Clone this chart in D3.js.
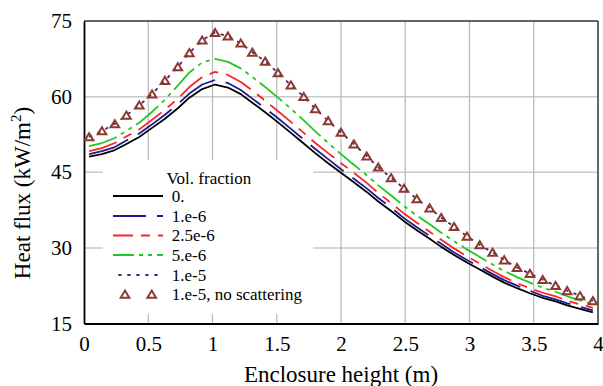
<!DOCTYPE html>
<html>
<head>
<meta charset="utf-8">
<script src="https://cdn.jsdelivr.net/npm/d3@7"></script>
<style>
  html, body { margin: 0; padding: 0; background: #fff; }
  svg, svg text { font-family: "Liberation Serif", "Times New Roman", serif; }
  svg { display: block; }
</style>
</head>
<body>
<svg id="chart" width="603" height="386"></svg>
<script>
// ---- data ----
const heights = [0.04,0.14,0.24,0.33,0.43,0.53,0.63,0.73,0.82,0.92,1.02,1.12,1.22,1.31,1.41,1.51,1.61,1.71,1.80,1.90,2.00,2.10,2.20,2.29,2.39,2.49,2.59,2.69,2.78,2.88,2.98,3.08,3.18,3.27,3.37,3.47,3.57,3.67,3.76,3.86,3.96];

const flux0 = [48.1,48.6,49.4,50.6,52.0,53.8,55.6,57.7,59.8,61.5,62.4,61.8,60.5,58.8,56.9,54.9,52.8,50.7,48.8,46.8,44.9,43.0,41.1,39.2,37.3,35.3,33.5,31.8,30.2,28.6,27.1,25.7,24.3,23.1,22.0,21.0,20.1,19.4,18.6,17.9,17.2];
const flux1e6 = [48.6,49.2,50.0,51.3,52.7,54.5,56.4,58.5,60.6,62.4,63.3,62.7,61.3,59.6,57.7,55.7,53.6,51.5,49.6,47.6,45.6,43.7,41.8,39.9,38.0,35.9,34.1,32.4,30.8,29.1,27.6,26.2,24.8,23.6,22.5,21.5,20.5,19.8,19.0,18.3,17.6];
const flux25e6 = [49.2,49.8,50.8,52.1,53.5,55.4,57.4,59.6,61.9,63.9,64.9,64.3,62.9,61.2,59.2,57.1,55.0,52.8,50.8,48.8,46.8,44.9,42.9,40.9,38.9,36.8,35.0,33.2,31.6,29.9,28.3,26.9,25.4,24.2,23.0,22.0,21.1,20.4,19.5,18.8,18.1];
const flux5e6 = [50.2,50.8,51.8,53.2,54.8,57.0,59.4,62.2,64.8,66.8,67.5,66.9,65.6,63.9,61.9,59.8,57.6,55.3,53.1,50.8,48.6,46.5,44.4,42.4,40.4,38.3,36.4,34.7,33.0,31.3,29.7,28.2,26.7,25.4,24.2,23.1,22.1,21.3,20.4,19.6,18.8];
const flux1e5 = [52.0,53.2,54.6,56.3,58.3,60.5,63.2,65.9,68.7,71.2,72.7,72.0,70.6,68.8,67.0,64.7,62.3,60.0,57.6,55.2,52.9,50.6,48.2,46.0,43.9,41.8,39.7,37.9,36.0,34.2,32.3,30.6,29.1,27.6,26.1,24.9,23.7,22.5,21.5,20.5,19.5];
const flux1e5NoScat = [52.0,53.2,54.6,56.3,58.3,60.5,63.2,65.9,68.7,71.2,72.7,72.0,70.6,68.8,67.0,64.7,62.3,60.0,57.6,55.2,52.9,50.6,48.2,46.0,43.9,41.8,39.7,37.9,36.0,34.2,32.3,30.6,29.1,27.6,26.1,24.9,23.7,22.5,21.5,20.5,19.5];

const seriesLabels = ["0.", "1.e-6", "2.5e-6", "5.e-6", "1.e-5", "1.e-5, no scattering"];
const legendTitle = "Vol. fraction";
const xTicks = [0, 0.5, 1, 1.5, 2, 2.5, 3, 3.5, 4];
const xTickLabels = ["0", "0.5", "1", "1.5", "2", "2.5", "3", "3.5", "4"];
const yTicks = [15, 30, 45, 60, 75];
const yTickLabels = ["15", "30", "45", "60", "75"];
const xTitle = "Enclosure height (m)";

// ---- styles ----
const FONT = "'Liberation Serif', 'Times New Roman', serif";
const lineStyles = [
  { color: "#000000", dash: null,                offset: 0,   width: 1.8 },
  { color: "#1c1c90", dash: "42,11",             offset: 9,   width: 1.8 },
  { color: "#ff2424", dash: "29,8,9,8",          offset: 9,   width: 1.8 },
  { color: "#22c822", dash: "29,5,4,5,4,5",      offset: 8,   width: 1.8 },
  { color: "#55207a", dash: "3.3,5.7",           offset: 3.7, width: 1.8 }
];
const triColor = "#8b3a30";

const svg = d3.select("#chart").attr("font-family", FONT);
const pLeft = 84, pRight = 598, pTop = 21, pBottom = 323.5;

const x = d3.scaleLinear().domain([0, 4]).range([pLeft, pRight]);
const y = d3.scaleLinear().domain([15, 75]).range([pBottom, pTop]);

// gridlines
const grid = svg.append("g");
grid.selectAll("line.h").data(yTicks.filter(v => v > 15 && v < 75)).join("line")
  .attr("class", "h")
  .attr("x1", pLeft).attr("x2", pRight)
  .attr("y1", d => y(d)).attr("y2", d => y(d))
  .attr("stroke", "#c9c9c9").attr("stroke-width", 1.5);
grid.selectAll("line.v").data(xTicks.filter(v => v > 0 && v < 4)).join("line")
  .attr("class", "v")
  .attr("x1", d => x(d)).attr("x2", d => x(d))
  .attr("y1", pTop).attr("y2", pBottom)
  .attr("stroke", "#b8b8b8").attr("stroke-width", 1.2);

// legend background covers gridlines
svg.append("rect").attr("x", 103).attr("y", 160).attr("width", 210).attr("height", 154)
  .attr("fill", "#fff");

// frame
svg.append("line").attr("x1", pLeft).attr("x2", pRight).attr("y1", pTop).attr("y2", pTop)
  .attr("stroke", "#333").attr("stroke-width", 1.5);
svg.append("line").attr("x1", pRight).attr("x2", pRight).attr("y1", pTop).attr("y2", pBottom)
  .attr("stroke", "#333").attr("stroke-width", 1.5);

// axes (labels) via d3 axes
const xAxis = d3.axisBottom(x).tickValues(xTicks)
  .tickFormat((d, i) => xTickLabels[i]).tickSize(0).tickPadding(13);
const gx = svg.append("g").attr("transform", `translate(0,${pBottom})`).call(xAxis)
  .attr("font-family", FONT).attr("font-size", 21);
gx.select(".domain").attr("stroke", "#000").attr("stroke-width", 1.8);
gx.selectAll("text").attr("fill", "#000");

const yAxis = d3.axisLeft(y).tickValues(yTicks)
  .tickFormat((d, i) => yTickLabels[i]).tickSize(0).tickPadding(12);
const gy = svg.append("g").attr("transform", `translate(${pLeft},0)`).call(yAxis)
  .attr("font-family", FONT).attr("font-size", 21);
gy.select(".domain").attr("stroke", "#000").attr("stroke-width", 1.8);
gy.selectAll("text").attr("fill", "#000");

// axis titles
svg.append("text").attr("x", 341).attr("y", 382).attr("text-anchor", "middle")
  .attr("font-size", 23).attr("fill", "#000").text(xTitle);
const yt = svg.append("text").attr("transform", "translate(30,193) rotate(-90)")
  .attr("text-anchor", "middle").attr("font-size", 23).attr("fill", "#000");
yt.append("tspan").text("Heat flux (kW/m");
yt.append("tspan").attr("dy", -9).attr("font-size", 15).text("2");
yt.append("tspan").attr("dy", 9).text(")");

// lines
const lineGen = d3.line().x((d, i) => x(heights[i])).y(d => y(d));
const lineData = [flux0, flux1e6, flux25e6, flux5e6, flux1e5];
const plot = svg.append("g");
lineData.forEach((vals, k) => {
  const st = lineStyles[k];
  plot.append("path").datum(vals)
    .attr("d", lineGen)
    .attr("fill", "none")
    .attr("stroke", st.color)
    .attr("stroke-width", st.width)
    .attr("stroke-dasharray", st.dash)
    .attr("stroke-linejoin", "round");
});

// triangle markers (bbox-centred)
const triPath = "M0,-3.7L4.3,3.4L-4.3,3.4Z";
plot.selectAll("path.tri").data(flux1e5NoScat).join("path")
  .attr("class", "tri")
  .attr("d", triPath)
  .attr("transform", (d, i) => `translate(${x(heights[i])},${y(d)})`)
  .attr("fill", "none").attr("stroke", triColor).attr("stroke-width", 2);

// legend
const lg = svg.append("g").attr("font-size", 17).attr("fill", "#000").attr("font-family", FONT);
lg.append("text").attr("x", 166.5).attr("y", 184).text(legendTitle);
const rowY = [196, 216, 235.5, 255, 275, 294.3];
lineStyles.forEach((st, k) => {
  lg.append("line").attr("x1", 113).attr("x2", 163)
    .attr("y1", rowY[k]).attr("y2", rowY[k])
    .attr("stroke", st.color).attr("stroke-width", st.width)
    .attr("stroke-dasharray", st.dash).attr("stroke-dashoffset", st.offset);
});
[125, 151.7].forEach(cx => {
  lg.append("path").attr("d", triPath)
    .attr("transform", `translate(${cx},${rowY[5]})`)
    .attr("fill", "none").attr("stroke", triColor).attr("stroke-width", 2);
});
seriesLabels.forEach((t, k) => {
  lg.append("text").attr("x", 171.7).attr("y", rowY[k] + 5.8).text(t);
});
</script>
</body>
</html>
